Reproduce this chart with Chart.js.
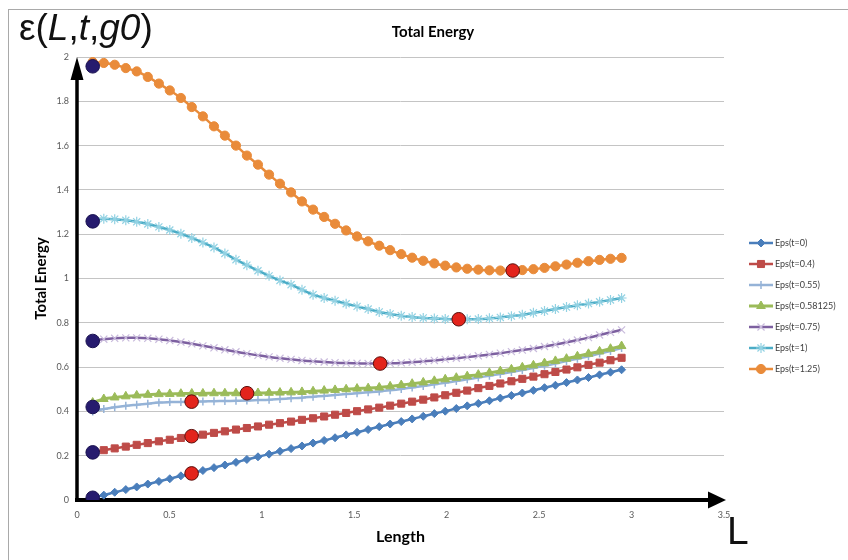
<!DOCTYPE html>
<html>
<head>
<meta charset="utf-8">
<script src="https://cdn.jsdelivr.net/npm/chart.js@4/dist/chart.umd.min.js"></script>
<style>
  html, body { margin: 0; padding: 0; background: #fff; }
  #wrap { position: relative; width: 848px; height: 560px; overflow: hidden; }
  #frame { position: absolute; left: 8px; top: 9px; width: 900px; height: 600px;
           border-left: 1px solid #a9a9a9; border-top: 1px solid #a9a9a9; }
  canvas { position: absolute; left: 0; top: 0; }
  .txt { position: absolute; white-space: nowrap; color: #111; font-family: "Liberation Sans", Arial, sans-serif; }
  #eps { left: 19px; top: 7px; font-size: 37px; }
  #bigL { left: 727px; top: 509px; font-size: 39px; }
  #title { left: 380px; top: 22px; width: 106px; text-align: center; font: bold 15px Lato, sans-serif; color: #000; }
</style>
</head>
<body>
<div id="wrap">
  <div id="frame"></div>
  <canvas id="chart" width="848" height="560"></canvas>
  <div class="txt" id="eps">ε(<i>L</i>,<i>t</i>,<i>g0</i>)</div>
  <div class="txt" id="bigL">L</div>
  <div class="txt" id="title">Total Energy</div>
</div>
<script>
// lengths L where each curve was sampled
const lengths = [0.085, 0.145, 0.204, 0.264, 0.323, 0.383, 0.443, 0.502, 0.562, 0.621,
  0.681, 0.741, 0.800, 0.860, 0.919, 0.979, 1.039, 1.098, 1.158, 1.217,
  1.277, 1.337, 1.396, 1.456, 1.515, 1.575, 1.635, 1.694, 1.754, 1.813,
  1.873, 1.933, 1.992, 2.052, 2.111, 2.171, 2.231, 2.290, 2.350, 2.409,
  2.469, 2.529, 2.588, 2.648, 2.707, 2.767, 2.827, 2.886, 2.946];

const seriesNames = ['Eps(t=0)', 'Eps(t=0.4)', 'Eps(t=0.55)', 'Eps(t=0.58125)', 'Eps(t=0.75)', 'Eps(t=1)', 'Eps(t=1.25)'];

const epsT0 = [0.010, 0.022, 0.035, 0.047, 0.059, 0.072, 0.084, 0.096, 0.109, 0.121,
  0.133, 0.146, 0.158, 0.170, 0.183, 0.195, 0.207, 0.220, 0.232, 0.244,
  0.257, 0.269, 0.281, 0.294, 0.306, 0.318, 0.331, 0.343, 0.354, 0.366,
  0.378, 0.390, 0.401, 0.413, 0.425, 0.436, 0.448, 0.460, 0.472, 0.483,
  0.495, 0.507, 0.518, 0.530, 0.542, 0.553, 0.565, 0.577, 0.588];
const epsT04 = [0.217, 0.225, 0.233, 0.241, 0.249, 0.257, 0.265, 0.272, 0.280, 0.288,
  0.295, 0.303, 0.310, 0.318, 0.325, 0.332, 0.340, 0.347, 0.354, 0.362,
  0.369, 0.377, 0.385, 0.393, 0.401, 0.409, 0.417, 0.426, 0.435, 0.444,
  0.453, 0.463, 0.473, 0.484, 0.494, 0.505, 0.515, 0.526, 0.536, 0.547,
  0.557, 0.568, 0.578, 0.589, 0.599, 0.610, 0.620, 0.631, 0.642];
const epsT055 = [0.400, 0.411, 0.419, 0.425, 0.430, 0.435, 0.440, 0.442, 0.443, 0.444,
  0.445, 0.446, 0.447, 0.448, 0.449, 0.451, 0.453, 0.456, 0.459, 0.462,
  0.466, 0.470, 0.474, 0.478, 0.482, 0.486, 0.490, 0.495, 0.501, 0.508,
  0.515, 0.522, 0.529, 0.537, 0.545, 0.553, 0.561, 0.569, 0.578, 0.587,
  0.596, 0.606, 0.616, 0.627, 0.638, 0.649, 0.661, 0.673, 0.686];
const epsT058 = [0.440, 0.456, 0.463, 0.468, 0.472, 0.475, 0.478, 0.479, 0.480, 0.481,
  0.481, 0.482, 0.482, 0.482, 0.482, 0.483, 0.484, 0.485, 0.486, 0.488,
  0.491, 0.494, 0.497, 0.500, 0.503, 0.505, 0.508, 0.513, 0.519, 0.525,
  0.531, 0.538, 0.545, 0.552, 0.559, 0.566, 0.574, 0.582, 0.590, 0.599,
  0.608, 0.618, 0.628, 0.638, 0.649, 0.660, 0.671, 0.683, 0.695];
const epsT075 = [0.720, 0.726, 0.730, 0.732, 0.732, 0.730, 0.726, 0.720, 0.713, 0.705,
  0.696, 0.687, 0.678, 0.669, 0.661, 0.653, 0.646, 0.640, 0.635, 0.630,
  0.626, 0.623, 0.620, 0.618, 0.617, 0.616, 0.616, 0.617, 0.619, 0.622,
  0.626, 0.630, 0.635, 0.640, 0.645, 0.651, 0.657, 0.663, 0.670, 0.677,
  0.684, 0.693, 0.702, 0.712, 0.722, 0.733, 0.745, 0.757, 0.768];
const epsT1 = [1.268, 1.270, 1.268, 1.263, 1.256, 1.246, 1.233, 1.219, 1.202, 1.183,
  1.162, 1.140, 1.113, 1.085, 1.060, 1.035, 1.012, 0.991, 0.972, 0.949,
  0.927, 0.912, 0.900, 0.886, 0.874, 0.862, 0.849, 0.840, 0.832, 0.826,
  0.822, 0.819, 0.817, 0.816, 0.816, 0.817, 0.820, 0.824, 0.830, 0.836,
  0.845, 0.853, 0.862, 0.871, 0.879, 0.887, 0.895, 0.903, 0.912];
const epsT125 = [1.977, 1.973, 1.965, 1.950, 1.935, 1.910, 1.880, 1.849, 1.815, 1.774,
  1.732, 1.687, 1.645, 1.600, 1.555, 1.514, 1.469, 1.428, 1.389, 1.348,
  1.311, 1.278, 1.247, 1.217, 1.190, 1.168, 1.148, 1.128, 1.110, 1.094,
  1.080, 1.068, 1.058, 1.050, 1.044, 1.040, 1.037, 1.036, 1.036, 1.038,
  1.042, 1.048, 1.055, 1.063, 1.071, 1.078, 1.084, 1.089, 1.093];

// highlighted points: start of each curve and its minimum
const startL = [0.085, 0.085, 0.085, 0.085, 0.085, 0.085];
const startEps = [0.010, 0.215, 0.420, 0.718, 1.258, 1.958];
const minL = [0.620, 0.620, 0.620, 0.920, 1.640, 2.065, 2.357];
const minEps = [0.120, 0.288, 0.444, 0.482, 0.616, 0.816, 1.036];

const xTickLabels = ['0', '0.5', '1', '1.5', '2', '2.5', '3', '3.5'];
const yTickLabels = ['0', '0.2', '0.4', '0.6', '0.8', '1', '1.2', '1.4', '1.6', '1.8', '2'];

const seriesValues = [epsT0, epsT04, epsT055, epsT058, epsT075, epsT1, epsT125];
const seriesStyle = [
  { line: '#4a7ebb', fill: '#4a7ebb', edge: '#4a7ebb', shape: 'rectRot', r: 4, bw: 1, lw: 2.5 },
  { line: '#be4b48', fill: '#be4b48', edge: '#be4b48', shape: 'rect', r: 5, bw: 1, lw: 2.5 },
  { line: '#95b3d7', fill: '#95b3d7', edge: '#95b3d7', shape: 'cross', r: 4, bw: 1.5, lw: 2.5 },
  { line: '#9bbb59', fill: '#9bbb59', edge: '#9bbb59', shape: 'triangle', r: 5, bw: 1, lw: 3 },
  { line: '#7d60a0', fill: '#c9bbdc', edge: '#c9bbdc', shape: 'crossRot', r: 5, bw: 1.2, lw: 2.5 },
  { line: '#4bacc6', fill: '#93d2e3', edge: '#93d2e3', shape: 'star', r: 5, bw: 1.2, lw: 2.5 },
  { line: '#e98b3a', fill: '#e98b3a', edge: '#e98b3a', shape: 'circle', r: 4.6, bw: 1, lw: 2.5 },
];

const datasets = seriesValues.map((vals, i) => ({
  label: seriesNames[i],
  data: lengths.map((x, j) => ({ x, y: vals[j] })),
  borderColor: seriesStyle[i].line,
  borderWidth: seriesStyle[i].lw,
  backgroundColor: seriesStyle[i].fill,
  pointStyle: seriesStyle[i].shape,
  pointRadius: seriesStyle[i].r,
  pointBackgroundColor: seriesStyle[i].fill,
  pointBorderColor: seriesStyle[i].edge,
  pointBorderWidth: seriesStyle[i].bw,
  tension: 0.35,
  order: 10 - i,
}));

datasets.push({
  label: 'start',
  data: startL.map((x, j) => ({ x, y: startEps[j] })),
  showLine: false,
  pointRadius: 6.8,
  pointBackgroundColor: '#261b6e',
  pointBorderColor: '#1a1250',
  pointBorderWidth: 1,
  order: 0,
});
datasets.push({
  label: 'minimum',
  data: minL.map((x, j) => ({ x, y: minEps[j] })),
  showLine: false,
  pointRadius: 6.8,
  pointBackgroundColor: '#e3241c',
  pointBorderColor: '#5a0d0a',
  pointBorderWidth: 1,
  order: 0,
});

const arrowAxes = {
  id: 'arrowAxes',
  beforeDatasetsDraw(chart) {
    const { ctx, scales: { x, y } } = chart;
    const x0 = x.getPixelForValue(0), y0 = y.getPixelForValue(0);
    const yTop = y.getPixelForValue(2), xEnd = x.getPixelForValue(3.5) + 2;
    ctx.save();
    ctx.fillStyle = '#000';
    ctx.strokeStyle = '#000';
    // y axis
    ctx.lineWidth = 3.5;
    ctx.beginPath();
    ctx.moveTo(x0, y0 + 2);
    ctx.lineTo(x0, yTop + 20);
    ctx.stroke();
    ctx.beginPath();
    ctx.moveTo(x0, yTop);
    ctx.lineTo(x0 - 6.5, yTop + 23);
    ctx.lineTo(x0 + 6.5, yTop + 23);
    ctx.closePath();
    ctx.fill();
    // x axis
    ctx.lineWidth = 4;
    ctx.beginPath();
    ctx.moveTo(x0 - 2, y0);
    ctx.lineTo(xEnd - 16, y0);
    ctx.stroke();
    ctx.beginPath();
    ctx.moveTo(xEnd, y0);
    ctx.lineTo(xEnd - 18, y0 - 8.5);
    ctx.lineTo(xEnd - 18, y0 + 8.5);
    ctx.closePath();
    ctx.fill();
    ctx.restore();
  },
};

const sideLegend = {
  id: 'sideLegend',
  afterDraw(chart) {
    const { ctx } = chart;
    ctx.save();
    seriesNames.forEach((name, i) => {
      const st = seriesStyle[i];
      const yy = 243 + i * 21;
      ctx.strokeStyle = st.line;
      ctx.lineWidth = st.lw;
      ctx.beginPath();
      ctx.moveTo(749, yy);
      ctx.lineTo(773, yy);
      ctx.stroke();
      ctx.fillStyle = st.fill;
      ctx.strokeStyle = st.edge;
      ctx.lineWidth = st.bw;
      Chart.helpers.drawPoint(ctx, { pointStyle: st.shape, radius: st.r, borderWidth: st.bw, rotation: 0 }, 761, yy);
      ctx.fillStyle = '#404040';
      ctx.font = '9px Lato, sans-serif';
      ctx.textBaseline = 'middle';
      ctx.textAlign = 'left';
      ctx.fillText(name, 775, yy);
    });
    ctx.restore();
  },
};

new Chart(document.getElementById('chart'), {
  type: 'line',
  data: { datasets },
  plugins: [arrowAxes, sideLegend],
  options: {
    responsive: false,
    animation: false,
    events: [],
    layout: { padding: { left: 8, right: 124, top: 57, bottom: 0 } },
    plugins: {
      legend: { display: false },
      tooltip: { enabled: false },
      title: { display: false },
    },
    scales: {
      x: {
        type: 'linear',
        min: 0,
        max: 3.5,
        afterFit: (s) => { s.height = 60; },
        border: { display: false },
        grid: { display: false, drawTicks: false },
        ticks: {
          stepSize: 0.5,
          padding: 10,
          color: '#595959',
          font: { family: 'Lato', size: 9 },
          maxRotation: 0,
          callback: (v, i) => xTickLabels[i],
        },
        title: {
          display: true,
          text: 'Length',
          color: '#000',
          font: { family: 'Lato', size: 16, weight: 'bold' },
          padding: { top: 0, bottom: 14 },
        },
      },
      y: {
        min: 0,
        max: 2,
        afterFit: (s) => { s.width = 69; },
        border: { display: false },
        grid: { color: '#c4c4c4', lineWidth: 1, drawTicks: false },
        ticks: {
          stepSize: 0.2,
          padding: 8,
          color: '#595959',
          font: { family: 'Lato', size: 9 },
          callback: (v, i) => yTickLabels[i],
        },
        title: {
          display: true,
          text: 'Total Energy',
          color: '#000',
          font: { family: 'Lato', size: 15, weight: 'bold' },
          padding: { top: 24, bottom: 0 },
        },
      },
    },
  },
});
</script>
</body>
</html>
